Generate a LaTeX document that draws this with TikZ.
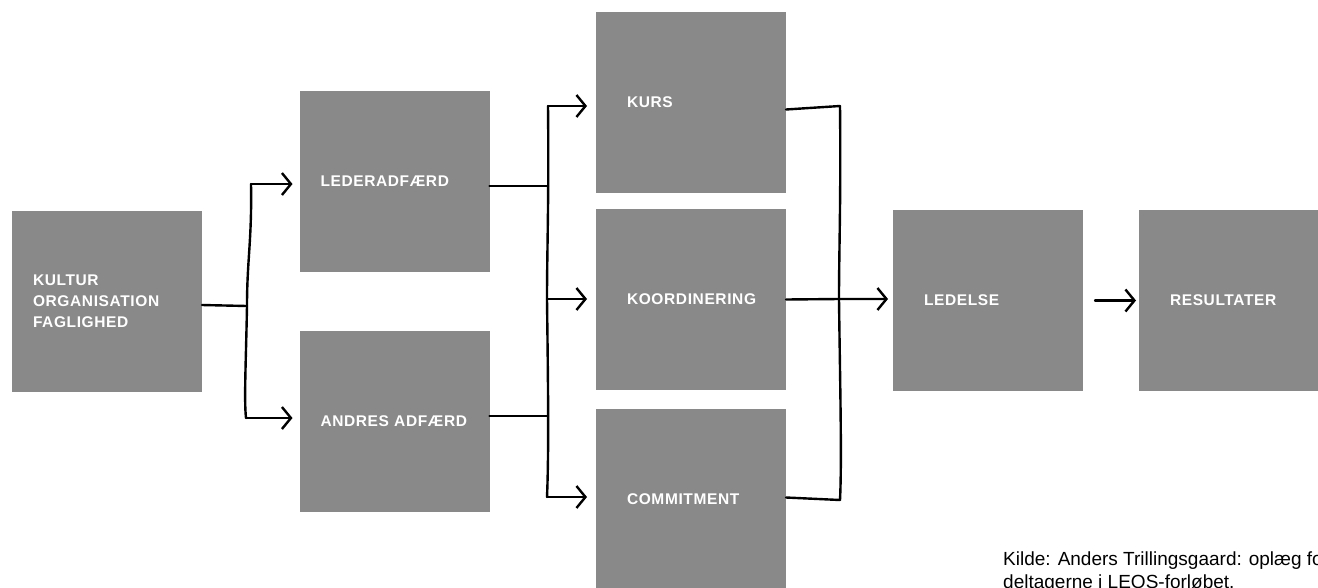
\documentclass[tikz,border=0pt]{standalone}
\usepackage{fontspec}
\setmainfont{Liberation Sans}
\newfontfamily\labelfont[LetterSpace=4]{Liberation Sans Bold}
\usetikzlibrary{arrows.meta}
\definecolor{boxgray}{RGB}{137,137,137}
\begin{document}
\begin{tikzpicture}[x=1pt,y=-1pt,
  box/.style={fill=boxgray, text=white, font=\labelfont\fontsize{15.5}{21}\selectfont,
    minimum height=181pt, minimum width=190pt, align=left, inner ysep=0pt, outer sep=0pt},
  boxa/.style={box, inner xsep=21pt, text width=148pt},
  boxb/.style={box, inner xsep=31pt, text width=128pt},
  wire/.style={line width=2.4pt, line cap=round, line join=round, draw=black},
  arr/.style={wire, -{Straight Barb[length=9pt,width=22pt]}}]
\useasboundingbox (0,0) rectangle (1318,587);
\clip (0,0) rectangle (1318,587);

% boxes
\node[boxa] (kultur) at (107,301) {KULTUR\\ORGANISATION\\FAGLIGHED};
\node[boxa] (leder)  at (394.5,181) {LEDERADFÆRD};
\node[boxa] (andres) at (394.5,421) {ANDRES ADFÆRD};
\node[boxb] (kurs)   at (691,102.5) {KURS};
\node[boxb] (koord)  at (691,299.5) {KOORDINERING};
\node[boxb] (commit) at (691,499.5) {COMMITMENT};
\node[boxb] (ledelse) at (988,300.5) {LEDELSE};
\node[boxb] (result) at (1234,300.5) {RESULTATER};

% junction points
\coordinate (j1t) at (251,184);
\coordinate (j1m) at (247,306);
\coordinate (j1b) at (246,418);
\coordinate (j2t) at (548,106);
\coordinate (j2a) at (548,186);
\coordinate (j2m) at (547,299);
\coordinate (j2c) at (548,416);
\coordinate (j2b) at (547,497);
\coordinate (j3t) at (840,106);
\coordinate (j3m) at (839,299);
\coordinate (j3b) at (840,500);

% first fork
\draw[wire] ([yshift=-4pt]kultur.east) -- (j1m);
\draw[wire] (j1t) .. controls (252,240) and (247,260) .. (j1m)
            .. controls (246,360) and (244,400) .. (j1b);
\draw[arr, shorten >=7pt] (j1t) -- (j1t -| leder.west);
\draw[arr, shorten >=7pt] (j1b) -- (j1b -| andres.west);

% second fork
\draw[wire] ([yshift=-5pt]leder.east) -- (j2a);
\draw[wire] ([yshift=5pt]andres.east) -- (j2c);
\draw[wire] (j2t) .. controls (549,200) and (547,250) .. (j2m)
            .. controls (548,380) and (549,450) .. (j2b);
\draw[arr, shorten >=9pt] (j2t) -- (j2t -| kurs.west);
\draw[arr, shorten >=9pt] (j2m) -- (j2m -| koord.west);
\draw[arr, shorten >=9pt] (j2b) -- (j2b -| commit.west);

% third join
\draw[wire] ([yshift=-7pt]kurs.east) -- (j3t);
\draw[wire] ([yshift=2pt]commit.east) -- (j3b);
\draw[wire] (j3t) .. controls (841,200) and (839,250) .. (j3m)
            .. controls (840,380) and (842,460) .. (j3b);
\draw[arr, shorten >=5pt] (koord.east) -- (j3m) -- (j3m -| ledelse.west);

% last arrow
\draw[arr, shorten <=12pt, shorten >=3pt] (ledelse.east) -- (result.west);

% source
\node[anchor=base west, inner sep=0pt, font=\fontsize{19}{23}\selectfont] (kilde1) at (1003,565) {Kilde: Anders Trillingsgaard: oplæg for};
\node[anchor=base west, inner sep=0pt, font=\fontsize{19}{23}\selectfont] (kilde2) at (1003,588) {deltagerne i LEOS-forløbet.};
\end{tikzpicture}
\end{document}
